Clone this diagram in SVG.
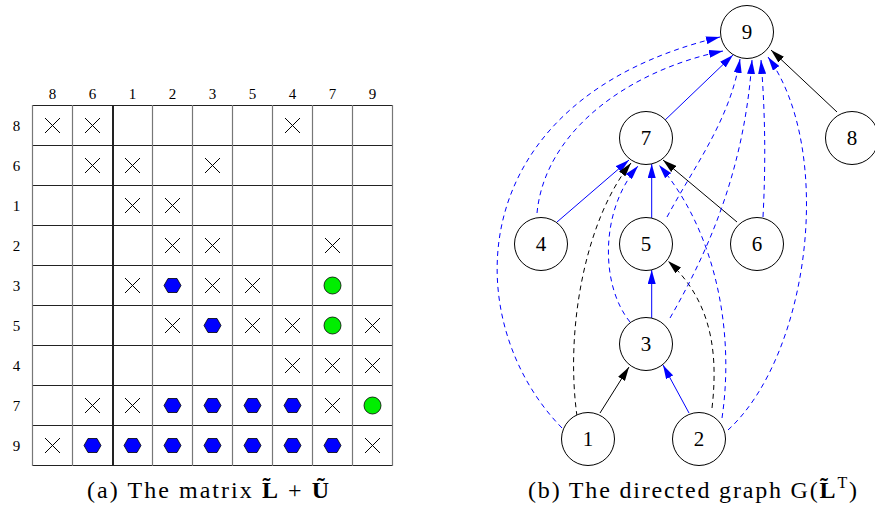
<svg xmlns="http://www.w3.org/2000/svg" xmlns:xlink="http://www.w3.org/1999/xlink" width="875" height="511" viewBox="0 0 875 511">
<style>
.lbl{font-family:"Liberation Serif","Times New Roman",serif;font-size:15px;fill:#000;text-anchor:middle}
.nl{font-family:"Liberation Serif","Times New Roman",serif;font-size:21px;fill:#000;text-anchor:middle}
.cap{font-family:"Liberation Serif","DejaVu Serif",serif;font-size:24px;fill:#000}
.vl{stroke:#777;stroke-width:1.2}
.hl{stroke:#222;stroke-width:1}
.x{stroke:#000;stroke-width:1;fill:none}
.hex{fill:#0000ff;stroke:#000;stroke-width:0.8}
.dot{fill:#00ee00;stroke:#000;stroke-width:0.8}
.node circle{fill:#fff;stroke:#000;stroke-width:1}
.e{fill:none;stroke-width:1}
.b{stroke:#0000ff}
.k{stroke:#000}
.d{stroke-dasharray:5,4}
</style>
<defs>
<marker id="ab" markerWidth="14" markerHeight="8" refX="14" refY="4" orient="auto" markerUnits="userSpaceOnUse"><path d="M0,0 L14,4 L0,8 z" fill="#0000ff" stroke="none"/></marker>
<marker id="ak" markerWidth="14" markerHeight="8" refX="14" refY="4" orient="auto" markerUnits="userSpaceOnUse"><path d="M0,0 L14,4 L0,8 z" fill="#000" stroke="none"/></marker>
<path id="X" class="x" d="M-7.5,-7.5 L7.5,7.5 M-7.5,7.5 L7.5,-7.5"/>
<polygon id="H" class="hex" points="-8.5,0 -4.5,-7 4.5,-7 8.5,0 4.5,7 -4.5,7"/>
<circle id="G" class="dot" r="8.5"/>
</defs>

<g id="matrix">
<g id="grid">
<line class="hl" x1="32.5" y1="105.5" x2="393" y2="105.5"/>
<line class="hl" x1="32.5" y1="145.5" x2="393" y2="145.5"/>
<line class="hl" x1="32.5" y1="185.5" x2="393" y2="185.5"/>
<line class="hl" x1="32.5" y1="225.5" x2="393" y2="225.5"/>
<line class="hl" x1="32.5" y1="265.5" x2="393" y2="265.5"/>
<line class="hl" x1="32.5" y1="305.5" x2="393" y2="305.5"/>
<line class="hl" x1="32.5" y1="345.5" x2="393" y2="345.5"/>
<line class="hl" x1="32.5" y1="385.5" x2="393" y2="385.5"/>
<line class="hl" x1="32.5" y1="425.5" x2="393" y2="425.5"/>
<line class="hl" x1="32.5" y1="465.5" x2="393" y2="465.5"/>
<line class="vl" x1="32.5" y1="105" x2="32.5" y2="466"/>
<line class="vl" x1="72.5" y1="105" x2="72.5" y2="466"/>
<line x1="113" y1="105" x2="113" y2="466" stroke="#222" stroke-width="2"/>
<line class="vl" x1="152.5" y1="105" x2="152.5" y2="466"/>
<line class="vl" x1="192.5" y1="105" x2="192.5" y2="466"/>
<line class="vl" x1="232.5" y1="105" x2="232.5" y2="466"/>
<line class="vl" x1="272.5" y1="105" x2="272.5" y2="466"/>
<line class="vl" x1="312.5" y1="105" x2="312.5" y2="466"/>
<line class="vl" x1="352.5" y1="105" x2="352.5" y2="466"/>
<line class="vl" x1="392.5" y1="105" x2="392.5" y2="466"/>
</g>
<g id="col-labels">
<text class="lbl" x="52.5" y="98.5">8</text>
<text class="lbl" x="92.5" y="98.5">6</text>
<text class="lbl" x="132.5" y="98.5">1</text>
<text class="lbl" x="172.5" y="98.5">2</text>
<text class="lbl" x="212.5" y="98.5">3</text>
<text class="lbl" x="252.5" y="98.5">5</text>
<text class="lbl" x="292.5" y="98.5">4</text>
<text class="lbl" x="332.5" y="98.5">7</text>
<text class="lbl" x="372.5" y="98.5">9</text>
</g>
<g id="row-labels">
<text class="lbl" x="16.5" y="130.5">8</text>
<text class="lbl" x="16.5" y="170.5">6</text>
<text class="lbl" x="16.5" y="210.5">1</text>
<text class="lbl" x="16.5" y="250.5">2</text>
<text class="lbl" x="16.5" y="290.5">3</text>
<text class="lbl" x="16.5" y="330.5">5</text>
<text class="lbl" x="16.5" y="370.5">4</text>
<text class="lbl" x="16.5" y="410.5">7</text>
<text class="lbl" x="16.5" y="450.5">9</text>
</g>
<g id="entries">
<use xlink:href="#X" x="52.5" y="125.5"/><use xlink:href="#X" x="92.5" y="125.5"/><use xlink:href="#X" x="292.5" y="125.5"/>
<use xlink:href="#X" x="92.5" y="165.5"/><use xlink:href="#X" x="132.5" y="165.5"/><use xlink:href="#X" x="212.5" y="165.5"/>
<use xlink:href="#X" x="132.5" y="205.5"/><use xlink:href="#X" x="172.5" y="205.5"/>
<use xlink:href="#X" x="172.5" y="245.5"/><use xlink:href="#X" x="212.5" y="245.5"/><use xlink:href="#X" x="332.5" y="245.5"/>
<use xlink:href="#X" x="132.5" y="285.5"/><use xlink:href="#H" x="172.5" y="285.5"/><use xlink:href="#X" x="212.5" y="285.5"/><use xlink:href="#X" x="252.5" y="285.5"/><use xlink:href="#G" x="332.5" y="285.5"/>
<use xlink:href="#X" x="172.5" y="325.5"/><use xlink:href="#H" x="212.5" y="325.5"/><use xlink:href="#X" x="252.5" y="325.5"/><use xlink:href="#X" x="292.5" y="325.5"/><use xlink:href="#G" x="332.5" y="325.5"/><use xlink:href="#X" x="372.5" y="325.5"/>
<use xlink:href="#X" x="292.5" y="365.5"/><use xlink:href="#X" x="332.5" y="365.5"/><use xlink:href="#X" x="372.5" y="365.5"/>
<use xlink:href="#X" x="92.5" y="405.5"/><use xlink:href="#X" x="132.5" y="405.5"/><use xlink:href="#H" x="172.5" y="405.5"/><use xlink:href="#H" x="212.5" y="405.5"/><use xlink:href="#H" x="252.5" y="405.5"/><use xlink:href="#H" x="292.5" y="405.5"/><use xlink:href="#X" x="332.5" y="405.5"/><use xlink:href="#G" x="372.5" y="405.5"/>
<use xlink:href="#X" x="52.5" y="445.5"/><use xlink:href="#H" x="92.5" y="445.5"/><use xlink:href="#H" x="132.5" y="445.5"/><use xlink:href="#H" x="172.5" y="445.5"/><use xlink:href="#H" x="212.5" y="445.5"/><use xlink:href="#H" x="252.5" y="445.5"/><use xlink:href="#H" x="292.5" y="445.5"/><use xlink:href="#H" x="332.5" y="445.5"/><use xlink:href="#X" x="372.5" y="445.5"/>
</g>
</g>

<g id="connectors">
<path class="e b" d="M663,122 L733,55" marker-end="url(#ab)"/>
<path class="e k" d="M837,112 L771,50" marker-end="url(#ak)"/>
<path class="e b" d="M557,222 L629,160" marker-end="url(#ab)"/>
<path class="e b" d="M651.7,218 L651.7,164" marker-end="url(#ab)"/>
<path class="e k" d="M737,222 L663,160" marker-end="url(#ak)"/>
<path class="e b" d="M651.7,318 L651.7,270" marker-end="url(#ab)"/>
<path class="e k" d="M600,413 L629,367" marker-end="url(#ak)"/>
<path class="e b" d="M689,413 L663,365" marker-end="url(#ab)"/>
<path class="e b d" d="M562,428 C458,322 458,100 720,37" marker-end="url(#ab)"/>
<path class="e b d" d="M537,213 C545,130 630,70 723,51" marker-end="url(#ab)"/>
<path class="e k d" d="M577,416 C565,330 585,220 631,163" marker-end="url(#ak)"/>
<path class="e b d" d="M630,322 C600,285 600,210 638,166" marker-end="url(#ab)"/>
<path class="e b d" d="M722,418 C735,330 715,230 659,165" marker-end="url(#ab)"/>
<path class="e k d" d="M712,408 C720,340 705,295 668,261" marker-end="url(#ak)"/>
<path class="e b d" d="M667,217 C695,165 730,120 740,59" marker-end="url(#ab)"/>
<path class="e b d" d="M670,318 C715,240 745,160 752,60" marker-end="url(#ab)"/>
<path class="e b d" d="M763,217 C766,160 765,110 761,60" marker-end="url(#ab)"/>
<path class="e b d" d="M728,430 C810,355 835,150 768,57" marker-end="url(#ab)"/>
</g>

<g id="n9" class="node"><circle cx="747" cy="32" r="26.5"/><text class="nl" x="747" y="39">9</text></g>
<g id="n7" class="node"><circle cx="646" cy="138" r="26.5"/><text class="nl" x="646" y="145">7</text></g>
<g id="n8" class="node"><circle cx="852" cy="138" r="26.5"/><text class="nl" x="852" y="145">8</text></g>
<g id="n4" class="node"><circle cx="541" cy="244" r="26.5"/><text class="nl" x="541" y="251">4</text></g>
<g id="n5" class="node"><circle cx="646" cy="244" r="26.5"/><text class="nl" x="646" y="251">5</text></g>
<g id="n6" class="node"><circle cx="757" cy="244" r="26.5"/><text class="nl" x="757" y="251">6</text></g>
<g id="n3" class="node"><circle cx="646" cy="344" r="26.5"/><text class="nl" x="646" y="351">3</text></g>
<g id="n1" class="node"><circle cx="588" cy="439" r="26.5"/><text class="nl" x="588" y="446">1</text></g>
<g id="n2" class="node"><circle cx="699" cy="439" r="26.5"/><text class="nl" x="699" y="446">2</text></g>

<g id="captions">
<text class="cap" x="87" y="498" textLength="242" lengthAdjust="spacing">(a) The matrix <tspan font-weight="bold">L&#x303;</tspan>&#160;+&#160;<tspan font-weight="bold">U&#x303;</tspan></text>
<text class="cap" x="528" y="498" textLength="329" lengthAdjust="spacing">(b) The directed graph G(<tspan font-weight="bold">L&#x303;</tspan><tspan font-size="16" dy="-10">T</tspan><tspan dy="10">)</tspan></text>
</g>
</svg>
